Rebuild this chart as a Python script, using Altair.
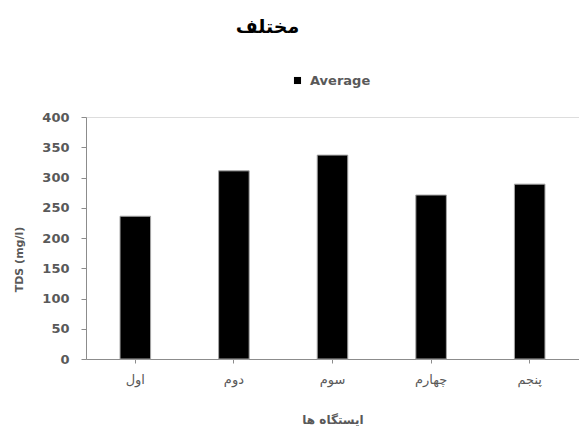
import altair as alt
import pandas as pd

# Station names (Persian ordinals) and their average TDS values
stations = ["اول", "دوم", "سوم", "چهارم", "پنجم"]
tds_avg = [236, 311, 337, 271, 289]
series = ["Average"] * len(stations)

df = pd.DataFrame({"station": stations, "tds": tds_avg, "series": series})

GREY = "#595959"
AXIS_GREY = "#8c8c8c"

bars = alt.Chart(df).mark_bar(
    stroke="#a6a6a6", strokeWidth=1
).encode(
    x=alt.X(
        "station:N",
        sort=None,
        scale=alt.Scale(paddingInner=0.69, paddingOuter=0.345),
        axis=alt.Axis(
            title="ایستگاه ها",
            titleFont="DejaVu Sans",
            titleFontSize=12,
            titleFontWeight="bold",
            titleColor=GREY,
            titleY=60,
            titleBaseline="middle",
            labelAngle=0,
            labelFont="DejaVu Sans",
            labelFontSize=13,
            labelColor=GREY,
            labelPadding=10,
            tickSize=4,
            tickColor=AXIS_GREY,
            domainColor=AXIS_GREY,
            grid=False,
        ),
    ),
    y=alt.Y(
        "tds:Q",
        scale=alt.Scale(domain=[0, 400], nice=False),
        axis=alt.Axis(
            title="TDS (mg/l)",
            titleFont="DejaVu Sans",
            titleFontSize=11,
            titleFontWeight="bold",
            titleColor=GREY,
            titleX=-67,
            titleY=142,
            titleAlign="center",
            titleBaseline="middle",
            titleAngle=270,
            values=[0, 50, 100, 150, 200, 250, 300, 350, 400],
            labelFont="DejaVu Sans",
            labelFontSize=13,
            labelFontWeight="bold",
            labelColor=GREY,
            labelPadding=12,
            tickSize=5,
            tickColor=AXIS_GREY,
            domainColor=AXIS_GREY,
            grid=False,
        ),
    ),
    color=alt.Color(
        "series:N",
        scale=alt.Scale(domain=["Average"], range=["#000000"]),
        legend=alt.Legend(
            title=None,
            orient="none",
            legendX=205,
            legendY=-43,
            symbolType="square",
            symbolSize=50,
            symbolStrokeWidth=0,
            labelFont="DejaVu Sans",
            labelFontSize=13,
            labelFontWeight="bold",
            labelColor=GREY,
            labelOffset=6,
        ),
    ),
)

chart = bars.properties(
    width=493,
    height=242,
    padding={"left": 86, "top": 117, "right": 0, "bottom": 69},
    autosize=alt.AutoSizeParams(type="none"),
    title=alt.TitleParams(
        text="مختلف",
        font="DejaVu Sans",
        fontSize=19,
        fontWeight="bold",
        color="#000000",
        anchor="middle",
        frame="group",
        dx=-65,
        offset=37,
    ),
).configure_view(stroke=None).configure(background="white")

chart.save("out.html", embed_options={"renderer": "svg", "actions": False})
